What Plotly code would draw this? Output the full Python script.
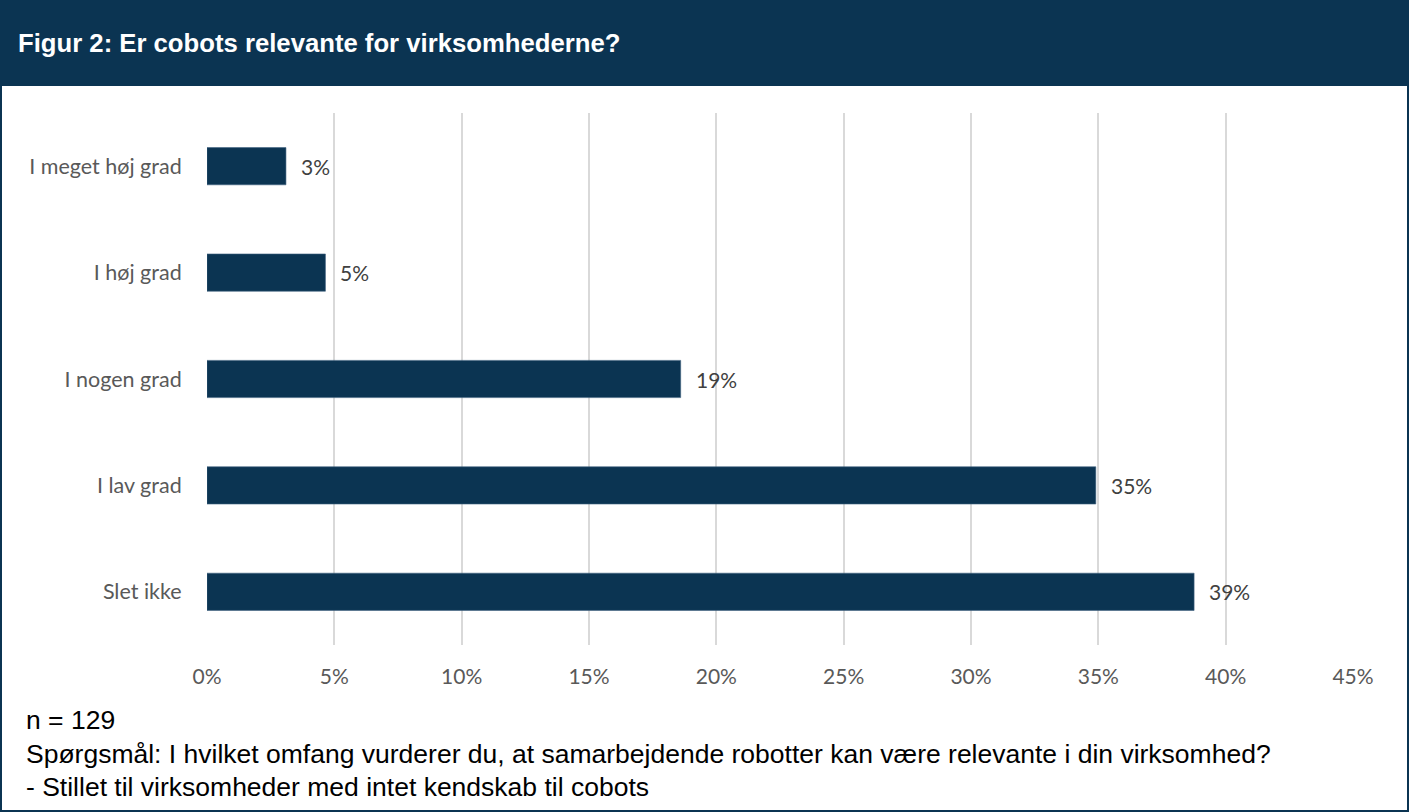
import plotly.graph_objects as go

categories = ["I meget høj grad", "I høj grad", "I nogen grad", "I lav grad", "Slet ikke"]
values = [3.1, 4.65, 18.6, 34.9, 38.76]
tick_vals = [0, 5, 10, 15, 20, 25, 30, 35, 40, 45]
tick_text = ["0%", "5%", "10%", "15%", "20%", "25%", "30%", "35%", "40%", "45%"]

title = "Figur 2: Er cobots relevante for virksomhederne?"
notes = [
    "n = 129",
    "Spørgsmål: I hvilket omfang vurderer du, at samarbejdende robotter kan være relevante i din virksomhed?",
    "- Stillet til virksomheder med intet kendskab til cobots",
]

W, H = 1409, 812
L, R, T, B = 207, 56, 113, 167
pw, ph = W - L - R, H - T - B
NAVY = "#0b3452"
CAL = "Lato, Open Sans, sans-serif"
ARIAL = "Liberation Sans, Arial, sans-serif"

def px(x):
    return (x - L) / pw

def py(y):
    return (H - B - y) / ph

fig = go.Figure()
fig.add_trace(go.Bar(
    x=values, y=categories, orientation="h",
    marker=dict(color=NAVY, line=dict(color="#3f6180", width=0.6)),
    width=0.35, hoverinfo="skip",
))

for v, c in zip(values, categories):
    fig.add_annotation(x=v, y=c, xref="x", yref="y", text=f"{v:.0f}%",
                       showarrow=False, xanchor="left", xshift=13,
                       font=dict(family=CAL, size=21, color="#404040"))

shapes = [
    dict(type="rect", xref="paper", yref="paper", x0=px(0), x1=px(W), y0=py(86), y1=py(0),
         fillcolor=NAVY, line=dict(width=0), layer="below"),
    dict(type="rect", xref="paper", yref="paper", x0=px(1), x1=px(W - 1), y0=py(H - 1), y1=py(1),
         fillcolor="rgba(0,0,0,0)", line=dict(color=NAVY, width=2)),
]
fig.update_layout(shapes=shapes)

fig.add_annotation(xref="paper", yref="paper", x=px(16), y=py(43), text=f"<b>{title}</b>",
                   showarrow=False, xanchor="left", yanchor="middle",
                   font=dict(family=ARIAL, size=25.7, color="white"))

for i, n in enumerate(notes):
    fig.add_annotation(xref="paper", yref="paper", x=px(24), y=py(720 + i * 33.5), text=n,
                       showarrow=False, xanchor="left", yanchor="middle",
                       font=dict(family=ARIAL, size=26.5, color="#000000"))

fig.update_layout(
    width=W, height=H,
    margin=dict(l=L, r=R, t=T, b=B, autoexpand=False),
    paper_bgcolor="white", plot_bgcolor="white",
    showlegend=False,
    xaxis=dict(range=[0, 45], tickvals=tick_vals, ticktext=tick_text,
               showgrid=True, gridcolor="#d9d9d9", gridwidth=1.5, zeroline=False,
               showline=False, ticks="outside", ticklen=13, tickcolor="rgba(0,0,0,0)",
               tickfont=dict(family=CAL, size=21, color="#595959"),
               fixedrange=True),
    yaxis=dict(categoryorder="array", categoryarray=categories, autorange="reversed",
               showgrid=False, zeroline=False, showline=False,
               ticks="outside", ticklen=20, tickcolor="rgba(0,0,0,0)",
               tickfont=dict(family=CAL, size=21.5, color="#595959"),
               fixedrange=True),
)

fig.write_html("out.html", config={"displayModeBar": False},
               post_script="document.body.style.margin='0';document.body.style.overflow='hidden';")
